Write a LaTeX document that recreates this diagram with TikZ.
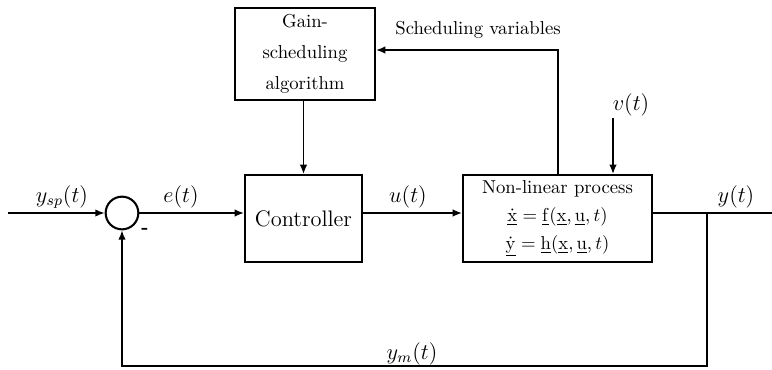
\documentclass[tikz,border=0pt]{standalone}
\usetikzlibrary{arrows.meta}
\begin{document}
\begin{tikzpicture}[x=0.535pt,y=-0.535pt,
  blk/.style={draw,line width=1.1pt,inner sep=0pt,align=center},
  sumc/.style={draw,circle,line width=1.1pt,minimum size=17.5pt,inner sep=0pt},
  conn/.style={line width=0.8pt},
  arr/.style={conn,-{Latex[length=5pt,width=4pt]}},
  lbl/.style={inner sep=0pt,font=\large}]
\useasboundingbox (0,0) rectangle (772,369);
\node[blk,minimum width=74.9pt,minimum height=49.2pt] (gain) at (305,54)
  {Gain-\\[4.5pt]scheduling\\[4.5pt]algorithm};
\node[blk,minimum width=62.6pt,minimum height=46.5pt,font=\large] (ctrl) at (303.5,218.5) {Controller};
\node[blk,minimum width=101.1pt,minimum height=46.5pt] (proc) at (557.5,218.5)
  {Non-linear process\\[3pt]
   $\dot{\underline{\mathrm{x}}}=\underline{\mathrm{f}}(\underline{\mathrm{x}},\underline{\mathrm{u}},t)$\\[3pt]
   $\dot{\underline{\mathrm{y}}}=\underline{\mathrm{h}}(\underline{\mathrm{x}},\underline{\mathrm{u}},t)$};
\node[sumc] (sum) at (122,213) {};
\coordinate (in) at (8,213);
\coordinate (out) at (772,213);
\coordinate (tap) at (707,213);
\coordinate (br) at (707,366);
\coordinate (bl) at (122,366);
\coordinate (vtop) at (613,118);
\coordinate (sv) at (558,50);
% connectors
\draw[arr] (in) -- (sum.west);
\draw[arr] (sum.east) -- (ctrl.west |- sum.east);
\draw[arr] (ctrl.east |- sum.east) -- (proc.west |- sum.east);
\draw[conn] (proc.east |- sum.east) -- (out);
\draw[arr] (tap) -- (br) -- (bl) -- (sum.south);
\draw[arr] (gain.south -| ctrl.north) -- (ctrl.north);
\draw[arr] (sv |- proc.north) -- (sv) -- (sv -| gain.east);
\draw[arr] (vtop) -- (vtop |- proc.north);
% labels
\node[lbl] (lysp) at (62,197) {$y_{sp}(t)$};
\node[lbl] (le) at (181,197) {$e(t)$};
\node[inner sep=0pt,font=\bfseries] (lminus) at (145,231) {-};
\node[lbl] (lu) at (408,197) {$u(t)$};
\node[lbl] (ly) at (736,197) {$y(t)$};
\node[lbl] (lym) at (412,354) {$y_m(t)$};
\node[lbl] (lv) at (631,105) {$v(t)$};
\node[inner sep=0pt] (lsv) at (478,30) {Scheduling variables};
\end{tikzpicture}
\end{document}
